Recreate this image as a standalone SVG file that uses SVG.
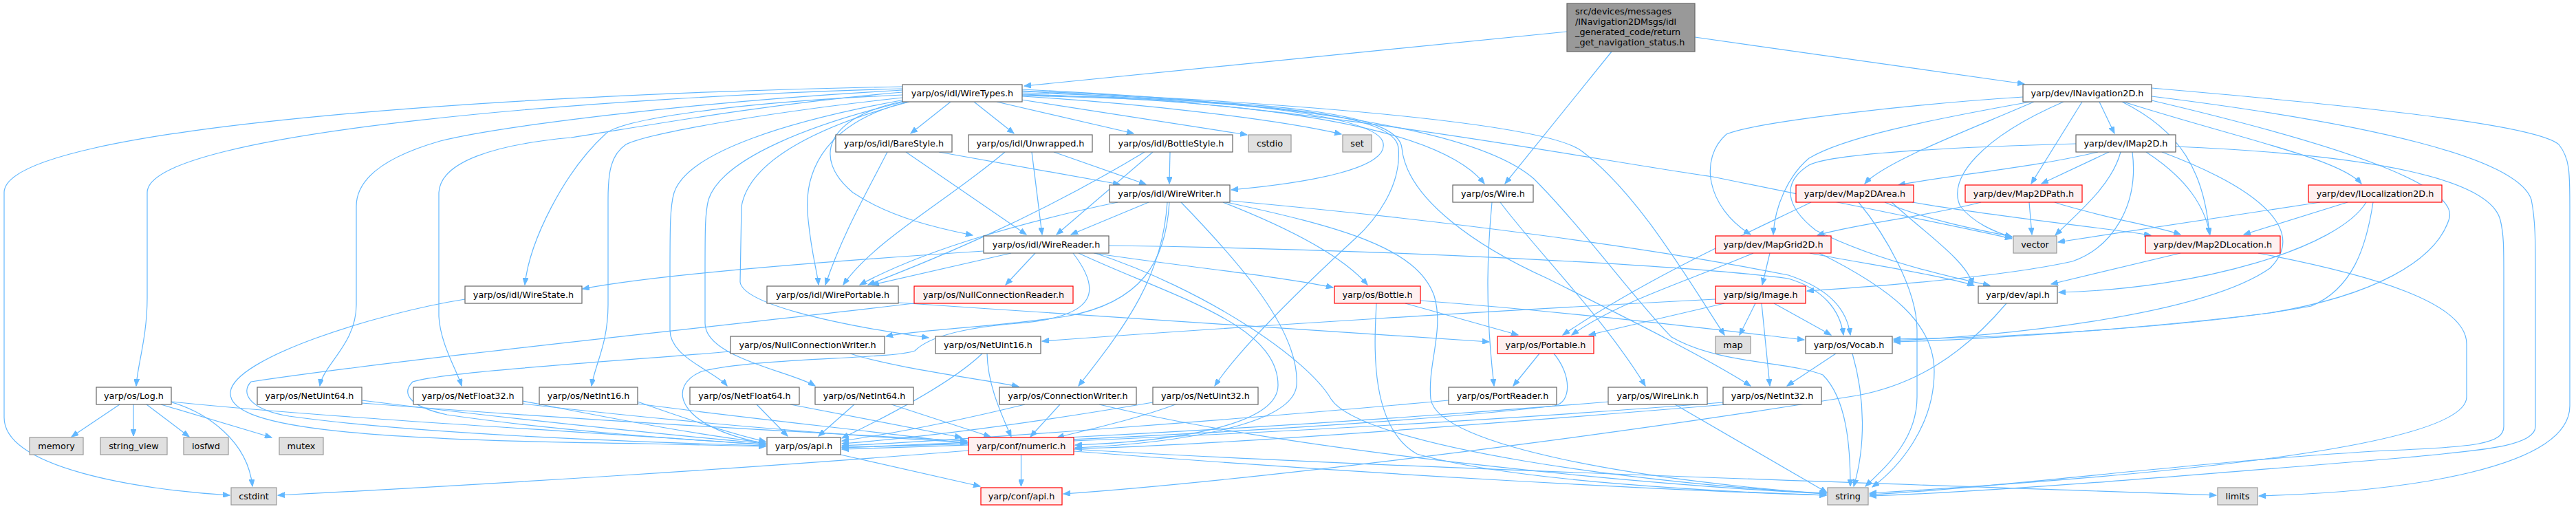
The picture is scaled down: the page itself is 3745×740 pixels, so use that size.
<svg xmlns="http://www.w3.org/2000/svg" width="3745" height="740" viewBox="0 0 3745 740">
<style>
.e{fill:none;stroke:#63b8ff;stroke-width:1.2;marker-end:url(#a)}
.n rect{fill:#ffffff;stroke:#666666;stroke-width:1.2}
.r rect{fill:#fff0f0;stroke:#ff0000;stroke-width:1.2}
.g rect{fill:#e0e0e0;stroke:#999999;stroke-width:1.2}
.t rect{fill:#999999;stroke:#666666;stroke-width:1.2}
text{font-family:"DejaVu Sans","Liberation Sans",sans-serif;font-size:12.8px;fill:#000000;text-anchor:middle}
.t text{text-anchor:start}
</style>
<defs>
<marker id="a" markerUnits="userSpaceOnUse" markerWidth="11" markerHeight="8" refX="10" refY="4" orient="auto"><path d="M0,0 L10,4 L0,8 z" fill="#63b8ff" stroke="#63b8ff"/></marker>
</defs>
<rect width="3745" height="740" fill="#ffffff"/>
<g id="edges">
<path class="e" d="M2278,46 L1489,125"/>
<path class="e" d="M2343,75 L2188,267"/>
<path class="e" d="M2464,54 L2943,122"/>
<path class="e" d="M1382,148 L1324,194"/>
<path class="e" d="M1416,148 L1474,194"/>
<path class="e" d="M1449,148 L1648,194"/>
<path class="e" d="M1485,145 L1813,196"/>
<path class="e" d="M1486,140 C1650,150 1850,172 1950,195"/>
<path class="e" d="M1486,135 C1700,140 1990,160 2010,205 C2025,245 1900,266 1790,276"/>
<path class="e" d="M1486,137 C1750,145 2080,170 2158,267"/>
<path class="e" d="M1314,147 C1200,170 1180,230 1240,280 C1300,320 1380,335 1414,342"/>
<path class="e" d="M1320,148 C1210,175 1165,240 1175,320 C1180,370 1188,395 1190,414"/>
<path class="e" d="M1312,138 C1050,150 900,175 880,195 C820,250 770,350 763,414"/>
<path class="e" d="M1312,129 C900,140 214,190 214,280 L214,433 C214,490 200,530 198,561"/>
<path class="e" d="M1312,126 C800,135 6,180 6,280 L6,607 C6,680 200,712 334,720"/>
<path class="e" d="M1312,131 C1000,148 720,185 640,205 C560,228 518,260 518,300 L518,443 C518,500 470,530 465,561"/>
<path class="e" d="M1312,134 C1100,152 900,190 830,200 C720,210 640,235 638,280 L638,460 C640,500 665,540 671,561"/>
<path class="e" d="M1312,142 C1100,165 940,195 910,210 C888,225 884,250 884,290 L884,443 C884,500 865,530 860,561"/>
<path class="e" d="M1315,145 C1150,175 1000,220 980,280 C974,300 974,330 974,400 L974,480 C974,520 1040,540 1057,561"/>
<path class="e" d="M1318,147 C1180,180 1050,230 1030,290 C1025,310 1025,330 1025,400 L1025,470 C1025,520 1150,540 1185,561"/>
<path class="e" d="M1322,148 C1200,180 1090,230 1078,300 L1076,410 C1080,440 1200,470 1350,491"/>
<path class="e" d="M1486,139 C1850,148 2028,165 2033,215 C2038,270 2000,320 1970,347 C1880,430 1800,510 1766,561"/>
<path class="e" d="M1486,138 C1850,146 2032,163 2038,215 C2045,290 2150,360 2250,405 C2380,470 2480,520 2545,561"/>
<path class="e" d="M1486,132 C1900,150 2250,180 2300,220 C2380,280 2450,400 2507,487"/>
<path class="e" d="M1486,133 C1900,150 2300,230 2490,257 C2700,300 2850,330 2925,347"/>
<path class="e" d="M1486,130 C1900,150 2150,190 2230,260 C2300,330 2380,440 2430,490 C2500,530 2600,525 2650,545 C2685,580 2690,650 2690,707"/>
<path class="e" d="M3052,148 L3074,194"/>
<path class="e" d="M2957,148 C2860,190 2740,235 2711,267"/>
<path class="e" d="M3027,148 L2953,267"/>
<path class="e" d="M2941,141 C2800,150 2560,175 2510,195 C2470,230 2480,300 2545,341"/>
<path class="e" d="M2952,148 C2800,175 2680,200 2630,230 C2600,255 2580,300 2578,341"/>
<path class="e" d="M3087,148 C3250,200 3400,230 3433,267"/>
<path class="e" d="M3085,148 C3170,190 3205,250 3212,341"/>
<path class="e" d="M3000,148 C2880,200 2830,260 2850,300 C2870,325 2900,337 2925,345"/>
<path class="e" d="M3128,128 C3500,160 3690,185 3720,210 C3736,230 3736,250 3736,300 L3736,590 C3736,680 3500,715 3284,721"/>
<path class="e" d="M3128,140 C3450,180 3660,230 3680,290 C3686,320 3686,350 3686,400 L3686,620 C3686,650 3600,655 3500,665 C3200,690 2900,715 2718,721"/>
<path class="e" d="M3128,146 C3400,210 3580,270 3560,320 C3540,380 3450,430 3300,455 C3100,480 2850,495 2753,497"/>
<path class="e" d="M3050,221 C2950,245 2830,255 2760,269"/>
<path class="e" d="M3066,221 L2968,267"/>
<path class="e" d="M3083,221 C3070,270 3020,310 2988,342"/>
<path class="e" d="M3120,221 C3180,260 3205,300 3213,341"/>
<path class="e" d="M3018,209 C2800,215 2660,225 2630,240 C2590,265 2595,300 2640,335 C2720,375 2820,400 2893,415"/>
<path class="e" d="M3100,221 C3110,300 3070,360 3013,380 C2900,405 2700,418 2627,423"/>
<path class="e" d="M3143,221 C3300,280 3350,340 3300,390 C3200,460 2900,490 2753,495"/>
<path class="e" d="M3163,213 C3450,225 3620,260 3635,320 C3640,340 3640,360 3640,400 L3640,620 C3640,645 3600,650 3470,655 C3200,670 2900,710 2718,719"/>
<path class="e" d="M2740,294 C2800,320 2880,335 2925,344"/>
<path class="e" d="M2780,294 C2900,315 3050,330 3127,342"/>
<path class="e" d="M2750,294 C2800,340 2860,380 2868,414"/>
<path class="e" d="M2702,294 C2740,340 2787,420 2787,480 L2787,577 C2787,640 2740,680 2712,707"/>
<path class="e" d="M2633,294 C2560,330 2400,400 2272,487"/>
<path class="e" d="M2950,294 L2954,341"/>
<path class="e" d="M2987,294 C3050,315 3140,330 3170,341"/>
<path class="e" d="M2880,294 C2800,315 2700,325 2642,342"/>
<path class="e" d="M3413,294 L3262,341"/>
<path class="e" d="M3373,294 C3200,320 3050,342 2992,352"/>
<path class="e" d="M3440,294 C3400,360 3200,420 2993,425"/>
<path class="e" d="M3450,294 C3440,360 3420,420 3360,445 C3200,475 2900,492 2753,493"/>
<path class="e" d="M3170,368 L2982,413"/>
<path class="e" d="M3283,368 C3450,400 3586,440 3586,500 L3586,577 C3586,660 3000,700 2718,717"/>
<path class="e" d="M2573,368 L2562,414"/>
<path class="e" d="M2549,368 C2450,410 2350,440 2285,487"/>
<path class="e" d="M2631,368 C2720,385 2820,400 2870,415"/>
<path class="e" d="M2645,368 C2750,420 2812,470 2812,540 C2812,620 2760,680 2722,708"/>
<path class="e" d="M2507,441 L2310,487"/>
<path class="e" d="M2552,441 L2529,487"/>
<path class="e" d="M2561,441 L2573,561"/>
<path class="e" d="M2579,441 L2662,487"/>
<path class="e" d="M2494,435 C2200,450 1800,475 1515,496"/>
<path class="e" d="M2043,441 L2207,487"/>
<path class="e" d="M2065,437 C2300,455 2500,480 2623,494"/>
<path class="e" d="M2001,441 C1998,500 1990,620 2060,660 C2200,700 2500,715 2655,720"/>
<path class="e" d="M2238,514 L2200,561"/>
<path class="e" d="M2259,514 C2285,545 2285,585 2260,590 C2000,620 1500,645 1224,650"/>
<path class="e" d="M2106,582 C1800,610 1400,640 1224,648"/>
<path class="e" d="M2340,584 C1900,620 1500,640 1224,651"/>
<path class="e" d="M2435,588 L2656,716"/>
<path class="e" d="M2505,585 C2000,625 1500,645 1224,653"/>
<path class="e" d="M2510,588 C2000,630 1700,650 1563,652"/>
<path class="e" d="M2669,514 L2598,561"/>
<path class="e" d="M2693,514 C2712,580 2712,650 2695,707"/>
<path class="e" d="M2917,441 C2850,520 2780,560 2700,575 C2300,640 1800,700 1546,718"/>
<path class="e" d="M2169,294 C2163,360 2158,440 2172,561"/>
<path class="e" d="M2181,294 C2230,360 2330,460 2392,561"/>
<path class="e" d="M676,435 C550,455 340,520 335,570 C330,620 500,640 940,645 L1113,649"/>
<path class="e" d="M174,588 L104,635"/>
<path class="e" d="M194,588 L194,634"/>
<path class="e" d="M213,588 L275,635"/>
<path class="e" d="M234,588 L395,636"/>
<path class="e" d="M250,585 C300,600 360,640 367,707"/>
<path class="e" d="M249,584 C500,610 900,630 1113,647"/>
<path class="e" d="M526,582 C750,610 950,630 1113,645"/>
<path class="e" d="M526,586 C900,615 1200,630 1406,641"/>
<path class="e" d="M760,583 C900,610 1000,630 1113,644"/>
<path class="e" d="M760,587 C1000,615 1250,635 1406,643"/>
<path class="e" d="M927,584 C1000,610 1060,630 1113,642"/>
<path class="e" d="M927,587 C1100,610 1300,630 1406,645"/>
<path class="e" d="M1100,588 L1145,634"/>
<path class="e" d="M1149,588 L1398,636"/>
<path class="e" d="M1242,588 L1190,634"/>
<path class="e" d="M1296,588 L1440,635"/>
<path class="e" d="M1428,514 C1380,560 1280,610 1224,637"/>
<path class="e" d="M1435,514 C1436,560 1455,600 1470,635"/>
<path class="e" d="M1490,588 C1400,610 1300,630 1224,641"/>
<path class="e" d="M1541,588 L1498,635"/>
<path class="e" d="M1598,588 C1900,660 2400,705 2655,718"/>
<path class="e" d="M1676,585 C1500,615 1350,635 1224,645"/>
<path class="e" d="M1709,588 C1650,610 1580,625 1537,636"/>
<path class="e" d="M1236,514 C1300,535 1420,550 1481,562"/>
<path class="e" d="M1062,511 C900,525 650,540 600,555 C585,570 590,590 650,603 C800,625 1000,640 1113,646"/>
<path class="e" d="M1329,441 C1000,480 600,520 365,555 C350,570 360,595 420,605 C600,630 900,642 1113,648"/>
<path class="e" d="M1306,440 C1600,460 1900,480 2165,497"/>
<path class="e" d="M1365,221 L1628,268"/>
<path class="e" d="M1317,221 L1492,341"/>
<path class="e" d="M1290,221 C1260,280 1225,340 1200,414"/>
<path class="e" d="M1532,221 L1666,268"/>
<path class="e" d="M1500,221 L1515,341"/>
<path class="e" d="M1461,221 C1380,290 1270,350 1226,414"/>
<path class="e" d="M1701,221 L1700,267"/>
<path class="e" d="M1676,221 L1536,341"/>
<path class="e" d="M1664,221 C1500,320 1350,380 1262,414"/>
<path class="e" d="M1670,294 L1557,341"/>
<path class="e" d="M1625,294 C1500,320 1350,360 1250,414"/>
<path class="e" d="M1697,294 C1690,400 1640,470 1568,561"/>
<path class="e" d="M1700,294 C1695,380 1660,440 1550,460 C1450,475 1330,480 1288,489"/>
<path class="e" d="M1717,294 C1800,380 1890,480 1885,560 C1880,620 1700,645 1563,651"/>
<path class="e" d="M1778,294 C1870,330 1950,370 1988,414"/>
<path class="e" d="M1789,292 C2100,320 2400,360 2600,400 C2660,420 2685,450 2690,487"/>
<path class="e" d="M1778,293 C1950,330 2060,360 2085,430 C2100,480 2075,530 2080,580 C2090,650 2400,700 2655,718"/>
<path class="e" d="M1470,368 L1268,414"/>
<path class="e" d="M1505,368 L1462,414"/>
<path class="e" d="M1430,365 C1200,380 950,400 847,420"/>
<path class="e" d="M1612,357 C2000,362 2450,385 2600,405 C2650,420 2675,450 2680,487"/>
<path class="e" d="M1590,368 C1700,385 1850,400 1938,418"/>
<path class="e" d="M1592,368 C1750,420 1900,520 1935,580 C1980,650 2400,705 2655,717"/>
<path class="e" d="M1560,368 C1600,420 1600,460 1480,470 C1380,478 1345,495 1330,510 C1300,522 1100,520 1020,540 C970,560 980,620 1113,645"/>
<path class="e" d="M1568,368 C1700,430 1858,470 1858,560 C1858,620 1700,642 1563,647"/>
<path class="e" d="M1484.5,661 L1484.5,707"/>
<path class="e" d="M1408,655 C1100,680 700,705 404,720"/>
<path class="e" d="M1561,653 C2000,680 2800,705 3222,720"/>
<path class="e" d="M1561,656 C2000,690 2400,712 2655,720"/>
<path class="e" d="M1222,661 L1425,707"/>
</g>
<g id="node-top" class="t"><rect x="2278" y="5" width="186" height="70"/><text x="2290" y="21">src/devices/messages</text><text x="2290" y="36">/INavigation2DMsgs/idl</text><text x="2290" y="51">_generated_code/return</text><text x="2290" y="66">_get_navigation_status.h</text></g>
<g id="node-WireTypes" class="n"><rect x="1312" y="123" width="174" height="25"/><text x="1399" y="140">yarp/os/idl/WireTypes.h</text></g>
<g id="node-INavigation2D" class="n"><rect x="2941" y="123" width="187" height="25"/><text x="3034.5" y="140">yarp/dev/INavigation2D.h</text></g>
<g id="node-BareStyle" class="n"><rect x="1215" y="196" width="169" height="25"/><text x="1299.5" y="213">yarp/os/idl/BareStyle.h</text></g>
<g id="node-Unwrapped" class="n"><rect x="1408" y="196" width="180" height="25"/><text x="1498" y="213">yarp/os/idl/Unwrapped.h</text></g>
<g id="node-BottleStyle" class="n"><rect x="1613" y="196" width="179" height="25"/><text x="1702.5" y="213">yarp/os/idl/BottleStyle.h</text></g>
<g id="node-cstdio" class="g"><rect x="1815" y="196" width="62" height="25"/><text x="1846" y="213">cstdio</text></g>
<g id="node-set" class="g"><rect x="1952" y="196" width="42" height="25"/><text x="1973" y="213">set</text></g>
<g id="node-IMap2D" class="n"><rect x="3018" y="196" width="145" height="25"/><text x="3090.5" y="213">yarp/dev/IMap2D.h</text></g>
<g id="node-WireWriter" class="n"><rect x="1613" y="269" width="175" height="25"/><text x="1700.5" y="286">yarp/os/idl/WireWriter.h</text></g>
<g id="node-Wire" class="n"><rect x="2112" y="269" width="117" height="25"/><text x="2170.5" y="286">yarp/os/Wire.h</text></g>
<g id="node-Map2DArea" class="r"><rect x="2611" y="269" width="171" height="25"/><text x="2696.5" y="286">yarp/dev/Map2DArea.h</text></g>
<g id="node-Map2DPath" class="r"><rect x="2857" y="269" width="170" height="25"/><text x="2942" y="286">yarp/dev/Map2DPath.h</text></g>
<g id="node-ILocalization2D" class="r"><rect x="3356" y="269" width="194" height="25"/><text x="3453" y="286">yarp/dev/ILocalization2D.h</text></g>
<g id="node-WireReader" class="n"><rect x="1430" y="343" width="182" height="25"/><text x="1521" y="360">yarp/os/idl/WireReader.h</text></g>
<g id="node-MapGrid2D" class="r"><rect x="2494" y="343" width="168" height="25"/><text x="2578" y="360">yarp/dev/MapGrid2D.h</text></g>
<g id="node-vector" class="g"><rect x="2927" y="343" width="63" height="25"/><text x="2958.5" y="360">vector</text></g>
<g id="node-Map2DLocation" class="r"><rect x="3119" y="343" width="196" height="25"/><text x="3217" y="360">yarp/dev/Map2DLocation.h</text></g>
<g id="node-WireState" class="n"><rect x="676" y="416" width="170" height="25"/><text x="761" y="433">yarp/os/idl/WireState.h</text></g>
<g id="node-WirePortable" class="n"><rect x="1115" y="416" width="191" height="25"/><text x="1210.5" y="433">yarp/os/idl/WirePortable.h</text></g>
<g id="node-NullConnectionReader" class="r"><rect x="1329" y="416" width="231" height="25"/><text x="1444.5" y="433">yarp/os/NullConnectionReader.h</text></g>
<g id="node-Bottle" class="r"><rect x="1940" y="416" width="125" height="25"/><text x="2002.5" y="433">yarp/os/Bottle.h</text></g>
<g id="node-Image" class="r"><rect x="2494" y="416" width="131" height="25"/><text x="2559.5" y="433">yarp/sig/Image.h</text></g>
<g id="node-devapi" class="n"><rect x="2876" y="416" width="115" height="25"/><text x="2933.5" y="433">yarp/dev/api.h</text></g>
<g id="node-NullConnectionWriter" class="n"><rect x="1062" y="489" width="224" height="25"/><text x="1174" y="506">yarp/os/NullConnectionWriter.h</text></g>
<g id="node-NetUint16" class="n"><rect x="1360" y="489" width="153" height="25"/><text x="1436.5" y="506">yarp/os/NetUint16.h</text></g>
<g id="node-Portable" class="r"><rect x="2177" y="489" width="140" height="25"/><text x="2247" y="506">yarp/os/Portable.h</text></g>
<g id="node-map" class="g"><rect x="2494" y="489" width="51" height="25"/><text x="2519.5" y="506">map</text></g>
<g id="node-Vocab" class="n"><rect x="2625" y="489" width="126" height="25"/><text x="2688" y="506">yarp/os/Vocab.h</text></g>
<g id="node-Log" class="n"><rect x="140" y="563" width="109" height="25"/><text x="194.5" y="580">yarp/os/Log.h</text></g>
<g id="node-NetUint64" class="n"><rect x="374" y="563" width="152" height="25"/><text x="450" y="580">yarp/os/NetUint64.h</text></g>
<g id="node-NetFloat32" class="n"><rect x="601" y="563" width="159" height="25"/><text x="680.5" y="580">yarp/os/NetFloat32.h</text></g>
<g id="node-NetInt16" class="n"><rect x="784" y="563" width="143" height="25"/><text x="855.5" y="580">yarp/os/NetInt16.h</text></g>
<g id="node-NetFloat64" class="n"><rect x="1003" y="563" width="159" height="25"/><text x="1082.5" y="580">yarp/os/NetFloat64.h</text></g>
<g id="node-NetInt64" class="n"><rect x="1185" y="563" width="143" height="25"/><text x="1256.5" y="580">yarp/os/NetInt64.h</text></g>
<g id="node-ConnectionWriter" class="n"><rect x="1453" y="563" width="199" height="25"/><text x="1552.5" y="580">yarp/os/ConnectionWriter.h</text></g>
<g id="node-NetUint32" class="n"><rect x="1676" y="563" width="153" height="25"/><text x="1752.5" y="580">yarp/os/NetUint32.h</text></g>
<g id="node-PortReader" class="n"><rect x="2106" y="563" width="157" height="25"/><text x="2184.5" y="580">yarp/os/PortReader.h</text></g>
<g id="node-WireLink" class="n"><rect x="2338" y="563" width="144" height="25"/><text x="2410" y="580">yarp/os/WireLink.h</text></g>
<g id="node-NetInt32" class="n"><rect x="2505" y="563" width="143" height="25"/><text x="2576.5" y="580">yarp/os/NetInt32.h</text></g>
<g id="node-memory" class="g"><rect x="43" y="636" width="78" height="25"/><text x="82" y="653">memory</text></g>
<g id="node-string_view" class="g"><rect x="146" y="636" width="97" height="25"/><text x="194.5" y="653">string_view</text></g>
<g id="node-iosfwd" class="g"><rect x="267" y="636" width="65" height="25"/><text x="299.5" y="653">iosfwd</text></g>
<g id="node-mutex" class="g"><rect x="406" y="636" width="64" height="25"/><text x="438" y="653">mutex</text></g>
<g id="node-osapi" class="n"><rect x="1115" y="636" width="107" height="25"/><text x="1168.5" y="653">yarp/os/api.h</text></g>
<g id="node-numeric" class="r"><rect x="1408" y="636" width="153" height="25"/><text x="1484.5" y="653">yarp/conf/numeric.h</text></g>
<g id="node-cstdint" class="g"><rect x="336" y="709" width="66" height="25"/><text x="369" y="726">cstdint</text></g>
<g id="node-confapi" class="r"><rect x="1426" y="709" width="118" height="25"/><text x="1485" y="726">yarp/conf/api.h</text></g>
<g id="node-string" class="g"><rect x="2657" y="709" width="59" height="25"/><text x="2686.5" y="726">string</text></g>
<g id="node-limits" class="g"><rect x="3224" y="709" width="58" height="25"/><text x="3253" y="726">limits</text></g>
</svg>
